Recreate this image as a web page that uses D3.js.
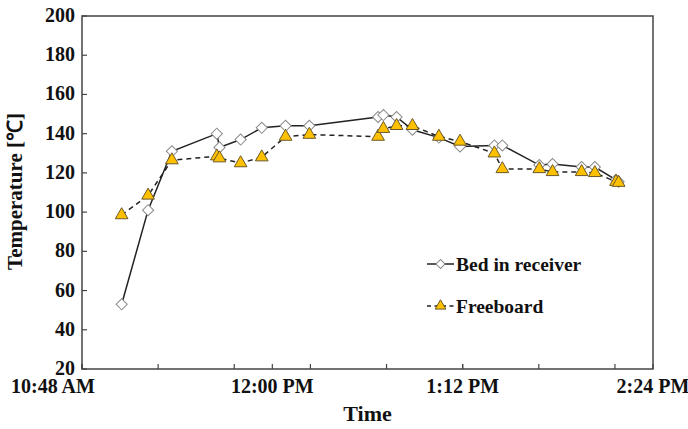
<!DOCTYPE html>
<html>
<head>
<meta charset="utf-8">
<script src="https://cdn.jsdelivr.net/npm/d3@7"></script>
<style>
  body { margin: 0; background: #fff; }
  text { font-family: "Liberation Serif", "Times New Roman", serif; font-weight: bold; fill: #111; }
</style>
</head>
<body>
<div id="chart"></div>
<script>
// clock times of the readings (24h)
var times = ["11:03", "11:13", "11:22", "11:39", "11:40", "11:48", "11:56", "12:05", "12:14",
    "12:40", "12:42", "12:47", "12:53", "13:03", "13:11", "13:24", "13:27", "13:41", "13:46",
    "13:57", "14:02", "14:10", "14:11"];
var bedValues = [53, 101, 131, 140, 133, 137, 143, 144, 144, 148.5, 149.5, 148.5, 142, 138,
    133.5, 134, 134, 124, 124.5, 123, 123, 116.5, 115.5];
var freeboardValues = [98.5, 108.5, 126.5, 128.5, 127.5, 125, 128, 138.5, 139.5, 138.5, 142.5,
    144, 144, 138.5, 136, 130, 122, 122, 120.5, 120.5, 120, 115.5, 115];
var seriesNames = ["Bed in receiver", "Freeboard"];
var yTicks = [20, 40, 60, 80, 100, 120, 140, 160, 180, 200];
var xMajorTicks = ["10:48", "12:00", "13:12", "14:24"];

var width = 688, height = 429,
    plot = { left: 82, right: 653, top: 16, bottom: 369 };

function toMin(s) { var p = s.split(":"); return +p[0] * 60 + +p[1]; }
function fmtTime(m) {
    var h = Math.floor(m / 60), mm = Math.round(m % 60);
    var ap = h >= 12 ? "PM" : "AM";
    var h12 = h % 12 === 0 ? 12 : h % 12;
    return h12 + ":" + (mm < 10 ? "0" : "") + mm + " " + ap;
}

var x = d3.scaleLinear()
    .domain([toMin(xMajorTicks[0]), toMin(xMajorTicks[xMajorTicks.length - 1])])
    .range([plot.left, plot.right]);
var y = d3.scaleLinear().domain([20, 200]).range([plot.bottom, plot.top]);

var svg = d3.select("#chart").append("svg")
    .attr("width", width)
    .attr("height", height);

var data = times.map(function(t, i) {
    return { t: toMin(t), bed: bedValues[i], fb: freeboardValues[i] };
});

// frame
svg.append("rect")
    .attr("x", plot.left).attr("y", plot.top)
    .attr("width", plot.right - plot.left).attr("height", plot.bottom - plot.top)
    .attr("fill", "none").attr("stroke", "#444").attr("stroke-width", 1.5);

// y axis ticks (inside) + labels
svg.selectAll(".ytick")
    .data(yTicks)
    .enter().append("line")
    .attr("x1", plot.left).attr("x2", plot.left + 5)
    .attr("y1", function(d) { return y(d); })
    .attr("y2", function(d) { return y(d); })
    .attr("stroke", "#444").attr("stroke-width", 1.2);

svg.selectAll(".ylabel")
    .data(yTicks)
    .enter().append("text")
    .attr("x", 75)
    .attr("y", function(d) { return y(d) + 6; })
    .attr("text-anchor", "end")
    .style("font-size", "20px")
    .text(function(d) { return d; });

// x axis ticks: major every 72 min, minor every 28.8 min (excel 0.05 / 0.02 day)
var x0 = x.domain()[0], x1 = x.domain()[1];
var minor = d3.range(x0, x1 + 0.1, 28.8);
var major = xMajorTicks.map(toMin);
svg.selectAll(".xtick")
    .data(minor.concat(major))
    .enter().append("line")
    .attr("x1", function(d) { return x(d); })
    .attr("x2", function(d) { return x(d); })
    .attr("y1", plot.bottom).attr("y2", plot.bottom - 5)
    .attr("stroke", "#444").attr("stroke-width", 1.2);

// first label sits left of its tick, as in the source
svg.selectAll(".xlabel")
    .data(major)
    .enter().append("text")
    .attr("x", function(d, i) { return i === 0 ? 11 : x(d); })
    .attr("y", 393)
    .attr("text-anchor", function(d, i) { return i === 0 ? "start" : "middle"; })
    .style("font-size", "20px")
    .text(function(d) { return fmtTime(d); });

// axis titles
svg.append("text")
    .attr("x", (plot.left + plot.right) / 2)
    .attr("y", 421)
    .attr("text-anchor", "middle")
    .style("font-size", "22px")
    .text("Time");

svg.append("text")
    .attr("transform", "translate(22," + ((plot.top + plot.bottom) / 2 - 1) + ") rotate(-90)")
    .attr("text-anchor", "middle")
    .style("font-size", "21px")
    .text("Temperature [℃]");

// series
var lineBed = d3.line().x(function(d) { return x(d.t); }).y(function(d) { return y(d.bed); });
var lineFb = d3.line().x(function(d) { return x(d.t); }).y(function(d) { return y(d.fb); });

var diamond = d3.symbol().type(d3.symbolSquare).size(62);
var triangle = d3.symbol().type(d3.symbolTriangle).size(70);

svg.append("path")
    .datum(data)
    .attr("d", lineBed)
    .attr("fill", "none").attr("stroke", "#222").attr("stroke-width", 1.5);

svg.selectAll(".bed")
    .data(data)
    .enter().append("path")
    .attr("class", "bed")
    .attr("d", diamond)
    .attr("transform", function(d) { return "translate(" + x(d.t) + "," + y(d.bed) + ") rotate(45)"; })
    .attr("fill", "#fff").attr("stroke", "#8a8a8a").attr("stroke-width", 1);

svg.append("path")
    .datum(data)
    .attr("d", lineFb)
    .attr("fill", "none").attr("stroke", "#222").attr("stroke-width", 1.5)
    .attr("stroke-dasharray", "5,4");

svg.selectAll(".fb")
    .data(data)
    .enter().append("path")
    .attr("class", "fb")
    .attr("d", triangle)
    .attr("transform", function(d) { return "translate(" + x(d.t) + "," + y(d.fb) + ")"; })
    .attr("fill", "#ffc000").attr("stroke", "#6b5a2a").attr("stroke-width", 1);

// legend
var legend = svg.selectAll(".legend")
    .data(seriesNames)
    .enter().append("g")
    .attr("class", "legend")
    .attr("transform", function(d, i) { return "translate(0," + (264 + i * 42) + ")"; });

legend.append("line")
    .attr("x1", 427).attr("x2", 454)
    .attr("y1", 0).attr("y2", 0)
    .attr("stroke", "#222").attr("stroke-width", 1.5)
    .attr("stroke-dasharray", function(d, i) { return i === 1 ? "4,3.5" : null; });

legend.append("path")
    .attr("d", function(d, i) { return i === 0 ? d3.symbol().type(d3.symbolSquare).size(40)() : d3.symbol().type(d3.symbolTriangle).size(50)(); })
    .attr("transform", function(d, i) { return "translate(440.5,0)" + (i === 0 ? " rotate(45)" : ""); })
    .attr("fill", function(d, i) { return i === 0 ? "#fff" : "#ffc000"; })
    .attr("stroke", function(d, i) { return i === 0 ? "#8a8a8a" : "#6b5a2a"; })
    .attr("stroke-width", 1);

legend.append("text")
    .attr("x", 456)
    .attr("y", 7)
    .style("font-size", "19.5px")
    .text(function(d) { return d; });
</script>
</body>
</html>
